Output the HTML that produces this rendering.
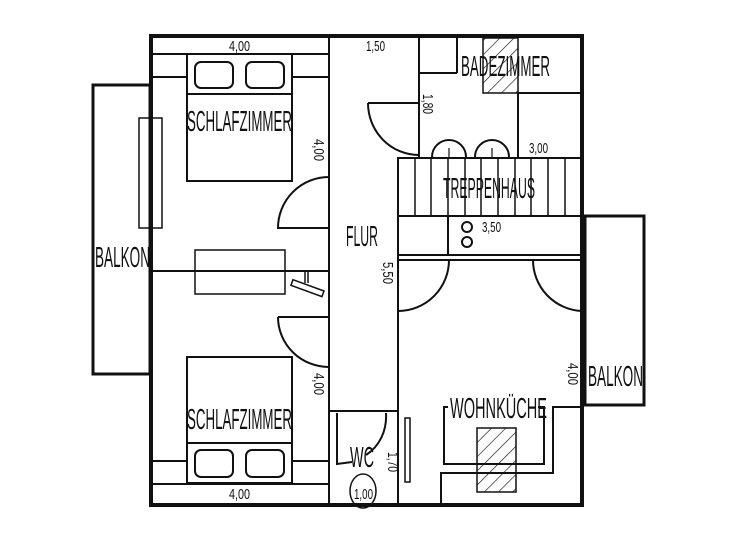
<!DOCTYPE html>
<html><head><meta charset="utf-8"><style>
html,body{margin:0;padding:0;background:#fff;}
svg{display:block;}
text{font-family:"Liberation Sans Narrow","Liberation Sans",sans-serif;fill:#111;}
</style></head><body>
<svg width="737" height="536" viewBox="0 0 737 536" xmlns="http://www.w3.org/2000/svg">
<defs>
<pattern id="h" width="10" height="10" patternUnits="userSpaceOnUse" patternTransform="rotate(45)">
<line x1="0" y1="0" x2="0" y2="10" stroke="#111" stroke-width="1.3"/>
</pattern>
</defs>
<g fill="none" stroke="#111" stroke-width="2">
<rect x="93" y="85" width="57" height="289" stroke-width="3"/>
<rect x="585" y="216" width="59" height="189" stroke-width="3"/>
<rect x="151" y="36" width="431" height="469" stroke-width="4"/>
<line x1="329" y1="36" x2="329" y2="505"/>
<line x1="151" y1="271" x2="329" y2="271"/>
<line x1="398" y1="157" x2="398" y2="505"/>
<line x1="151" y1="54" x2="329" y2="54"/>
<line x1="151" y1="77" x2="187" y2="77"/>
<line x1="292" y1="77" x2="329" y2="77"/>
<rect x="187" y="54" width="105" height="127"/>
<line x1="187" y1="94" x2="292" y2="94"/>
<rect x="195" y="62" width="38" height="26" rx="6"/>
<rect x="246" y="62" width="38" height="26" rx="6"/>
<rect x="139" y="118" width="23" height="110" stroke-width="1.5"/>
<path d="M329 177 A51 51 0 0 0 278 228 L329 228"/>
<rect x="195" y="250" width="90" height="44" stroke-width="1.5"/>
<line x1="305" y1="272" x2="305" y2="283" stroke-width="1.5"/>
<line x1="308" y1="272" x2="308" y2="283" stroke-width="1.5"/>
<rect x="291" y="285" width="33" height="6" transform="rotate(20 307 288)" stroke-width="1.5"/>
<path d="M278 317 L329 317 M278 317 A51 50 0 0 0 329 367"/>
<rect x="187" y="357" width="105" height="126"/>
<line x1="187" y1="443" x2="292" y2="443"/>
<rect x="195" y="450" width="38" height="27" rx="6"/>
<rect x="246" y="450" width="38" height="27" rx="6"/>
<line x1="151" y1="461" x2="187" y2="461"/>
<line x1="292" y1="461" x2="329" y2="461"/>
<line x1="151" y1="484" x2="329" y2="484"/>
<line x1="329" y1="411" x2="398" y2="411"/>
<path d="M337 413 L337 464 L352 462"/>
<path d="M386 413 C387 430 380 446 366 455"/>
<ellipse cx="363" cy="491" rx="13" ry="17" stroke-width="1.5"/>
<rect x="405" y="418" width="5" height="64" stroke-width="1.5"/>
<line x1="419" y1="36" x2="419" y2="157"/>
<line x1="419" y1="73" x2="457" y2="73"/>
<line x1="457" y1="36" x2="457" y2="73"/>
<rect x="483" y="38" width="35" height="55" fill="url(#h)" stroke-width="1.5"/>
<line x1="518" y1="93" x2="582" y2="93"/>
<line x1="518" y1="93" x2="518" y2="157"/>
<path d="M368 103 L419 103 M368 103 A51 52 0 0 0 419 155"/>
<path d="M432 157 A17 17 0 0 1 466 157 M475 157 A17 17 0 0 1 509 157"/>
<line x1="449" y1="148" x2="449" y2="157" stroke-width="1.2"/>
<line x1="492" y1="148" x2="492" y2="157" stroke-width="1.2"/>
<rect x="398" y="158" width="184" height="58"/>
<g stroke-width="1.5">
<line x1="415" y1="158" x2="415" y2="216"/><line x1="431" y1="158" x2="431" y2="216"/>
<line x1="448" y1="158" x2="448" y2="216"/><line x1="465" y1="158" x2="465" y2="216"/>
<line x1="481" y1="158" x2="481" y2="216"/><line x1="498" y1="158" x2="498" y2="216"/>
<line x1="515" y1="158" x2="515" y2="216"/><line x1="531" y1="158" x2="531" y2="216"/>
<line x1="548" y1="158" x2="548" y2="216"/><line x1="565" y1="158" x2="565" y2="216"/>
</g>
<rect x="398" y="216" width="184" height="39"/>
<line x1="448" y1="216" x2="448" y2="255"/>
<circle cx="467" cy="227" r="5"/><circle cx="467" cy="242" r="5"/>
<line x1="398" y1="260" x2="582" y2="260"/>
<path d="M449 260 A51 51 0 0 1 398 311"/>
<path d="M533 260 A51 51 0 0 0 582 311"/>
<path d="M448 407 L444 407 L444 464 L544 464 L544 407 L538 407"/>
<path d="M441 505 L441 473 L553 473 L553 407 L582 407"/>
<rect x="477" y="428" width="39" height="64" fill="url(#h)" stroke-width="1.5"/>
</g>
<g font-size="29">
<text x="187" y="131" textLength="105" lengthAdjust="spacingAndGlyphs">SCHLAFZIMMER</text>
<text x="187" y="429" textLength="105" lengthAdjust="spacingAndGlyphs">SCHLAFZIMMER</text>
<text x="461" y="76" textLength="89" lengthAdjust="spacingAndGlyphs">BADEZIMMER</text>
<text x="443" y="198" textLength="92" lengthAdjust="spacingAndGlyphs">TREPPENHAUS</text>
<text x="95" y="267" textLength="55" lengthAdjust="spacingAndGlyphs">BALKON</text>
<text x="588" y="386" textLength="55" lengthAdjust="spacingAndGlyphs">BALKON</text>
<text x="346" y="246" textLength="32" lengthAdjust="spacingAndGlyphs">FLUR</text>
<text x="450" y="418" textLength="97" lengthAdjust="spacingAndGlyphs">WOHNKÜCHE</text>
<text x="350" y="467" textLength="24" lengthAdjust="spacingAndGlyphs">WC</text>
</g>
<g font-size="15">
<text x="229" y="51" textLength="21" lengthAdjust="spacingAndGlyphs">4,00</text>
<text x="229" y="499" textLength="21" lengthAdjust="spacingAndGlyphs">4,00</text>
<text x="366" y="51" textLength="19" lengthAdjust="spacingAndGlyphs">1,50</text>
<text x="529" y="153" textLength="19" lengthAdjust="spacingAndGlyphs">3,00</text>
<text x="482" y="232" textLength="19" lengthAdjust="spacingAndGlyphs">3,50</text>
<text x="354" y="499" textLength="19" lengthAdjust="spacingAndGlyphs">1,00</text>
<text transform="translate(314,150) rotate(90)" x="-11" y="0" textLength="22" lengthAdjust="spacingAndGlyphs">4,00</text>
<text transform="translate(314,384) rotate(90)" x="-11" y="0" textLength="22" lengthAdjust="spacingAndGlyphs">4,00</text>
<text transform="translate(423,104) rotate(90)" x="-10" y="0" textLength="20" lengthAdjust="spacingAndGlyphs">1,80</text>
<text transform="translate(383,273) rotate(90)" x="-11" y="0" textLength="22" lengthAdjust="spacingAndGlyphs">5,50</text>
<text transform="translate(388,462) rotate(90)" x="-10" y="0" textLength="20" lengthAdjust="spacingAndGlyphs">1,70</text>
<text transform="translate(568,374) rotate(90)" x="-11" y="0" textLength="22" lengthAdjust="spacingAndGlyphs">4,00</text>
</g>
</svg>
</body></html>
